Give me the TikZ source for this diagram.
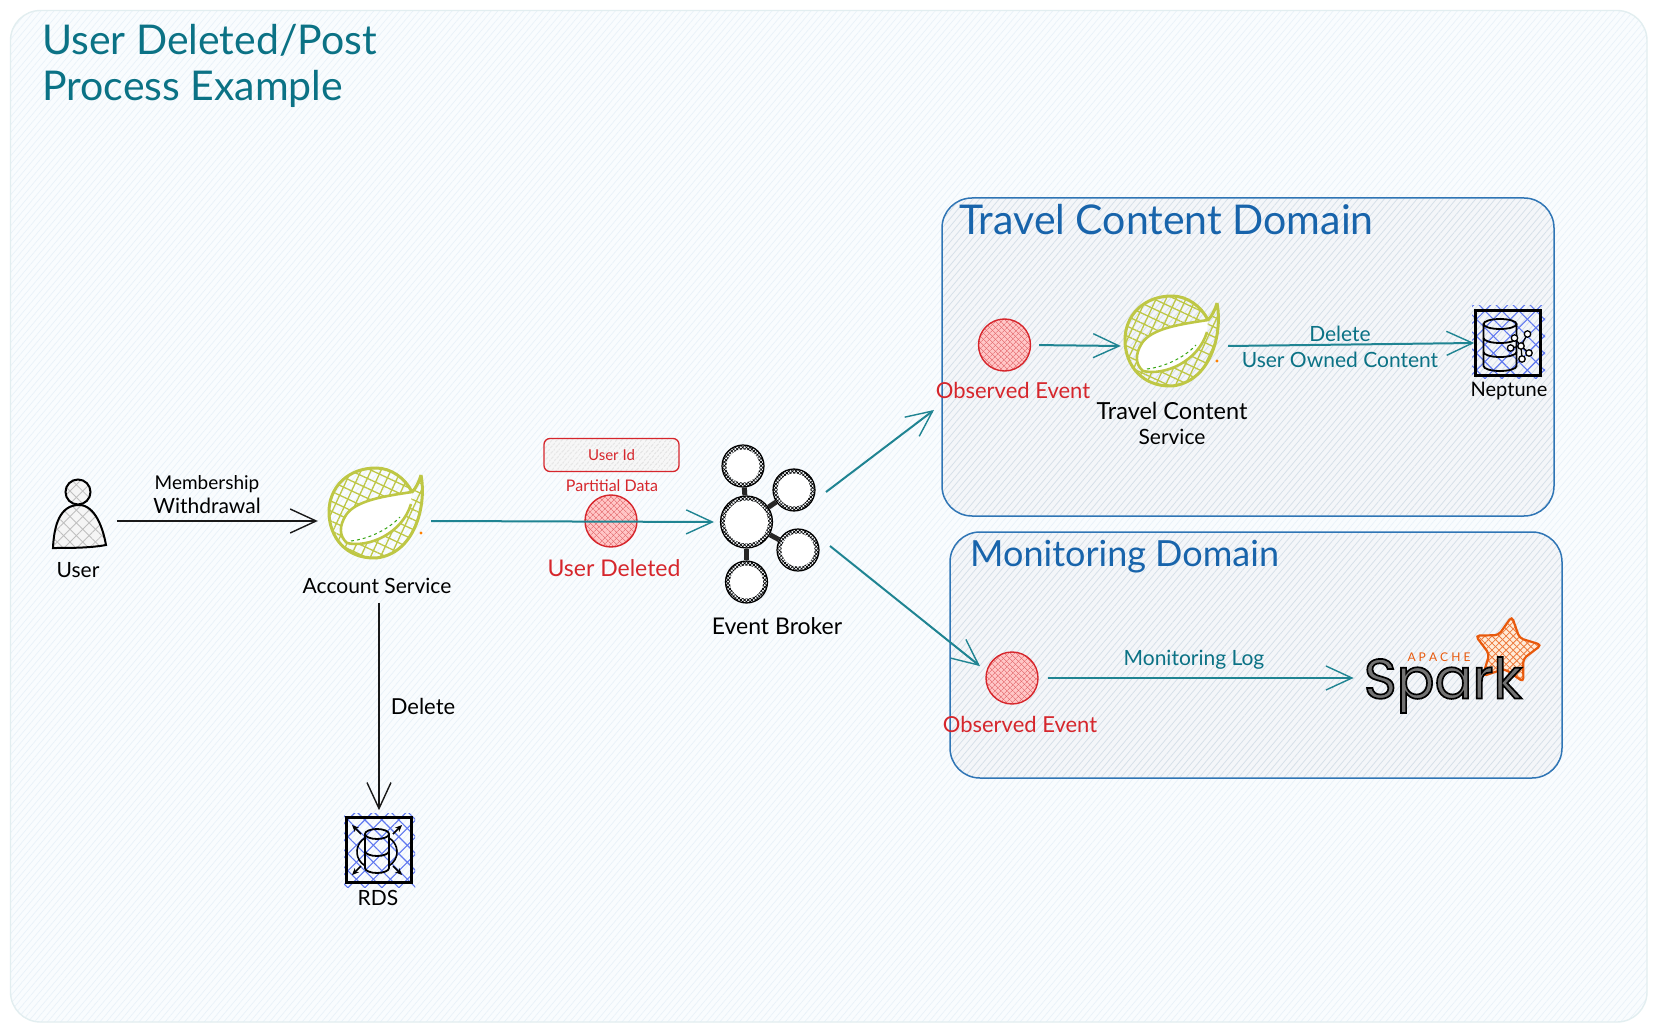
\documentclass[tikz,border=0pt]{standalone}
\usepackage{fontspec}
\usepackage{xcolor}
\usetikzlibrary{arrows.meta, patterns.meta, shapes.geometric}
\setmainfont{Lato}
\newfontfamily\sparkfont[FakeBold=3]{Poppins}

\definecolor{inktitle}{HTML}{0B7285}
\definecolor{inkdomain}{HTML}{1864AB}
\definecolor{inkred}{HTML}{D6262C}
\definecolor{arrowteal}{HTML}{1F8492}
\definecolor{boxblue}{HTML}{2F75B5}
\definecolor{leafolive}{HTML}{BEC745}
\definecolor{hatchblue}{HTML}{5F78F0}
\definecolor{sparkorange}{HTML}{E8590C}
\definecolor{domainfill}{HTML}{F4F6F9}
\definecolor{domainhatch}{HTML}{D6E0E9}
\definecolor{paperfill}{HTML}{F9FCFE}
\definecolor{paperhatch}{HTML}{E9F2F9}

\tikzset{
    lines/.style n args={4}{pattern={Lines[angle=#1,distance=#2,line width=#3]},pattern color=#4},
    xhatch/.style n args={3}{preaction={lines={45}{#1}{#2}{#3}},preaction={lines={-45}{#1}{#2}{#3}}},
    lab/.style={inner sep=0pt,align=center,font=\fontsize{21}{25}\selectfont},
    redlab/.style={lab,text=inkred,font=\fontsize{22}{26}\selectfont},
    teallab/.style={lab,text=inktitle},
    domainlab/.style={inner sep=0pt,anchor=west,text=inkdomain,font=\fontsize{41}{48}\selectfont},
    iconslot/.style={inner sep=0pt,minimum height=80pt},
    eventdot/.style={circle,inner sep=0pt,minimum size=52pt,draw=inkred,line width=1.4pt,preaction={fill=red!22},xhatch={4pt}{.6pt}{inkred!75}},
    domainbox/.style={rectangle,rounded corners=30pt,inner sep=0pt,draw=boxblue,line width=1.5pt,
        preaction={fill=domainfill},preaction={lines={50}{5pt}{.8pt}{domainhatch}}},
    dbbox/.style={rectangle,inner sep=0pt,minimum size=65pt,draw=black,line width=2.6pt},
    brokerdot/.style={circle,inner sep=0pt,minimum size=#1,draw=black,line width=1.2pt,xhatch={2.6pt}{.7pt}{black},
        path picture={\fill[white] (path picture bounding box.center) circle ({#1/2-4.5pt});}},
    flow/.style={line width=2pt,-{Straight Barb[length=26pt,width=24pt,line width=1.4pt]}},
    flowblack/.style={flow,draw=black!90},
    flowteal/.style={flow,draw=arrowteal},
    brokerlink/.style={line width=5pt,draw=black!85},
    cornerarrow/.style={-{Stealth[length=7pt,width=6pt]},line width=1.5pt},
    leafsvc/.pic={
        % outer ring of the leaf
        \draw[leafolive,line width=3pt,line join=round,preaction={lines={65}{9pt}{1.3pt}{leafolive}},preaction={lines={-25}{9pt}{1.3pt}{leafolive}}]
            (45,-37) .. controls (51,-5) and (38,42) .. (0,46) .. controls (-30,47) and (-47,25) .. (-47,0)
            .. controls (-47,-25) and (-28,-44) .. (0,-44) .. controls (15,-44) and (29,-34) .. (36,-20)
            .. controls (40,-24) and (43,-30) .. (45,-37);
        % white swoosh
        \draw[leafolive,line width=2.6pt,fill=white]
            (36,-20) .. controls (10,-16) and (-20,-12) .. (-30,3) .. controls (-37,14) and (-37,24) .. (-29,31)
            .. controls (-8,36) and (26,22) .. (35,-8);
        \draw[green!60!black!70!leafolive,line width=1pt,dash pattern=on 3pt off 3pt] (-25,29) .. controls (-8,27) and (12,18) .. (24,5);
        \fill[orange] (45,21) circle (1.6);
    }
}

% database can: centre x, top y, width, height of one tier
\newcommand{\dbcan}[5]{
    \draw[line width=1.8pt] (#1,#2) ellipse [x radius=#3/2,y radius=5];
    \draw[line width=1.8pt] (#1-#3/2,#2) -- (#1-#3/2,{#2+#4*#5}) arc[start angle=180,end angle=0,x radius=#3/2,y radius=5] -- (#1+#3/2,#2);
    \foreach \tier in {1,...,#5} {
        \ifnum\tier<#5
            \draw[line width=1.8pt] (#1-#3/2,{#2+#4*\tier}) arc[start angle=180,end angle=0,x radius=#3/2,y radius=5];
        \fi
    }
}

\begin{document}
\begin{tikzpicture}[x=1pt,y=-1pt]
    \useasboundingbox (0,0) rectangle (1658,1032);

    % Paper
    \fill[white] (0,0) rectangle (1658,1032);
    \draw[draw=inktitle!12,line width=1.4pt,rounded corners=30pt,preaction={fill=paperfill},preaction={lines={50}{5pt}{.7pt}{paperhatch}}]
        (10.5,10.5) rectangle (1647,1022);

    % Title
    \node[inner sep=0pt,anchor=west,text=inktitle,font=\fontsize{41}{46}\selectfont,align=left] (title) at (42,66)
        {User Deleted/Post\\Process Example};

    % Domains
    \node[domainbox,minimum width=612pt,minimum height=318pt] (travelbox) at (1248,357) {};
    \node[domainbox,minimum width=612pt,minimum height=246pt] (monitorbox) at (1256,655) {};
    \node[domainlab] (traveltitle) at (959,220) {Travel Content Domain};
    \node[domainlab,font=\fontsize{36}{42}\selectfont] (monitortitle) at (970,557) {Monitoring Domain};

    % User
    \node[iconslot,minimum width=76pt] (user) at (79,521) {};
    \draw[line width=2pt,preaction={fill=black!4},xhatch={9pt}{.8pt}{black!25}] (53,548) .. controls (54,525) and (60,505) .. (79,505)
        .. controls (95,505) and (103,528) .. (106,545) .. controls (90,548) and (70,548) .. (53,548) -- cycle;
    \draw[line width=2pt,preaction={fill=black!4},xhatch={9pt}{.8pt}{black!25}] (78,492) circle (12.5);
    \node[lab] (userlab) at (78,570) {User};

    % Account service
    \pic at (376,512) {leafsvc};
    \node[iconslot,minimum width=113pt] (account) at (374.5,521) {};
    \node[lab] (accountlab) at (377,586) {Account Service};

    % RDS
    \path[xhatch={12pt}{1.1pt}{hatchblue}] (344,813) rectangle (415,887);
    \node[dbbox] (rds) at (379,850) {};
    \dbcan{377}{834}{24}{17}{2}
    \draw[line width=1.6pt] (365,838) arc[start angle=240,end angle=120,radius=16];
    \draw[line width=1.6pt] (389,838) arc[start angle=-60,end angle=60,radius=16];
    \draw[cornerarrow] (361,834) -- (352,825);
    \draw[cornerarrow] (393,834) -- (402,825);
    \draw[cornerarrow] (361,866) -- (352,875);
    \draw[cornerarrow] (393,866) -- (402,875);
    \node[lab] (rdslab) at (378,898) {RDS};

    % Published event
    \node[eventdot] (deleted) at (611,521) {};
    \node[redlab,font=\fontsize{23}{27}\selectfont] (deletedlab) at (614,568) {User Deleted};
    \node[rectangle,rounded corners=6pt,minimum width=135pt,minimum height=33pt,inner sep=0pt,text=inkred,font=\fontsize{15}{18}\selectfont,
        draw=inkred,line width=1.3pt,preaction={fill=black!3},preaction={lines={50}{4pt}{.8pt}{black!20}}] (userid) at (611.5,455) {User Id};
    \node[lab,text=inkred,font=\fontsize{16}{19}\selectfont] (partial) at (612,486) {Partitial Data};

    % Event broker
    \node[brokerdot=52pt] (hub) at (746.5,522) {};
    \node[brokerdot=42pt] (dottop) at (743,466) {};
    \node[brokerdot=42pt] (dotup) at (794,490) {};
    \node[brokerdot=42pt] (dotdown) at (798,550) {};
    \node[brokerdot=42pt] (dotbottom) at (746.5,582) {};
    \foreach \dot in {dottop,dotup,dotdown,dotbottom} {
        \draw[brokerlink] (hub) -- (\dot);
    }
    \node[lab,font=\fontsize{23}{27}\selectfont] (brokerlab) at (777,626) {Event Broker};
    \coordinate (brokerout1) at (826,492);
    \coordinate (brokerout2) at (830,546);
    \coordinate (travelin) at (934,410);

    % Travel content domain
    \node[eventdot] (obstravel) at (1004.5,345) {};
    \node[redlab] (obstravellab) at (1013,390) {Observed Event};
    \pic at (1172,340) {leafsvc};
    \node[iconslot,minimum width=107pt] (travelsvc) at (1174.5,346) {};
    \node[lab] (travelsvclab) at (1172,423) {{\fontsize{23.5}{25}\selectfont Travel Content}\\Service};
    \path[xhatch={12pt}{1.1pt}{hatchblue}] (1472,306) rectangle (1545,379);
    \node[dbbox] (neptune) at (1508,343) {};
    \dbcan{1500}{324}{33}{14}{3}
    \foreach \ax/\ay in {1527.5/334,1514.5/338,1529/353,1510.6/348,1522/359} {
        \draw[line width=1.3pt] (1521,346) -- (\ax,\ay);
    }
    \foreach \ax/\ay in {1521/346,1527.5/334,1514.5/338,1529/353,1510.6/348,1522/359} {
        \draw[line width=1.3pt,fill=white] (\ax,\ay) circle (3.2);
    }
    \node[lab,font=\fontsize{20}{24}\selectfont] (neptunelab) at (1509,391) {Neptune};
    \node[teallab] (deletelab) at (1340,334) {Delete};
    \node[teallab] (ownedlab) at (1340,360) {User Owned Content};

    % Monitoring domain
    \node[eventdot] (obsmon) at (1012,678) {};
    \node[redlab] (obsmonlab) at (1020,724) {Observed Event};
    \node[teallab] (loglab) at (1194,660) {Monitoring Log};
    \node[star,star points=5,star point ratio=1.95,minimum size=70pt,inner sep=0pt,rotate=-8,rounded corners=4pt,
        draw=sparkorange,line width=2.2pt,preaction={fill=orange!15},xhatch={5pt}{.8pt}{sparkorange!80}] (sparkstar) at (1507,651) {};
    \node[inner sep=0pt,text=black!55,font=\sparkfont\fontsize{56}{60}\selectfont] (sparklogo) at (1443,685)
        {\special{pdf:code 0 0 0 RG}Spark};
    \node[inner sep=0pt,text=sparkorange,font=\fontsize{12}{14}\selectfont] (apache) at (1439,657) {A P A C H E};

    % Connectors
    \draw[flowblack] (user.east) -- (account.west);
    \node[lab,font=\fontsize{19}{24}\selectfont] (withdrawlab) at (207,495) {Membership\\{\fontsize{21}{24}\selectfont Withdrawal}};
    \draw[flowblack] (accountlab.south -| rds.north) ++(0,9) -- ([yshift=6pt]rds.north);
    \node[lab,font=\fontsize{22}{26}\selectfont] (deletedblab) at (423,706) {Delete};
    \draw[flowteal] (account.east) -- ([xshift=-6pt]hub.west);
    \draw[flowteal] (brokerout1) -- (travelin);
    \draw[flowteal,shorten >=8pt] (brokerout2) -- (obsmon.165);
    \draw[flowteal,shorten <=8pt] (obstravel.east) -- (travelsvc.west);
    \draw[flowteal] (travelsvc.east) -- (neptune.west);
    \draw[flowteal,shorten <=9pt,shorten >=10pt] (obsmon.east) -- (sparklogo.west |- obsmon.east);
\end{tikzpicture}
\end{document}
